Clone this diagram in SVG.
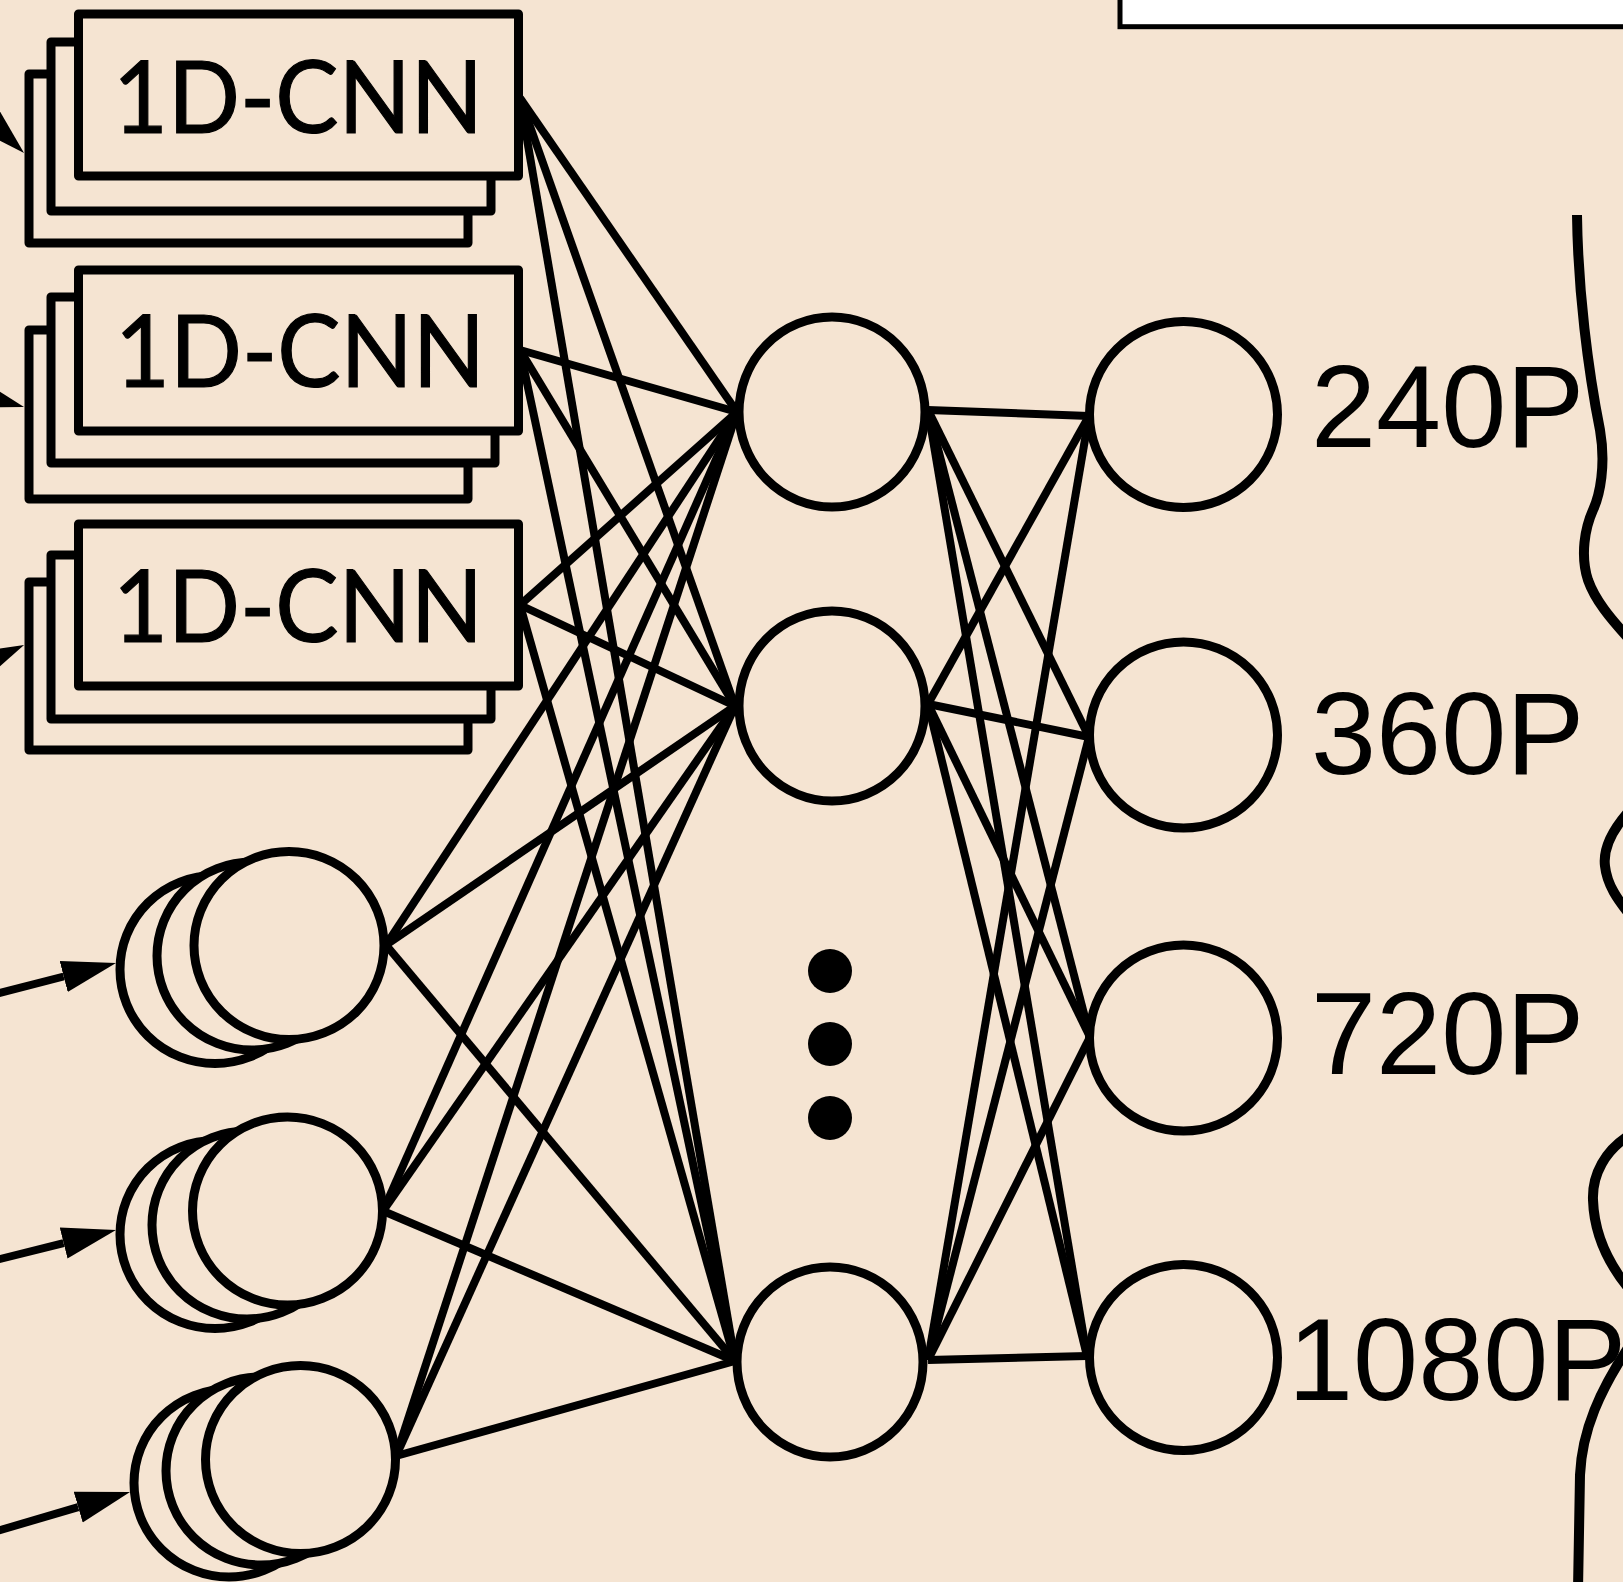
<svg xmlns="http://www.w3.org/2000/svg" width="1623" height="1582" viewBox="0 0 1623 1582">
<style>
.bg{fill:#F5E4D2}
.shape{fill:#F5E4D2;stroke:#000;stroke-width:9;stroke-linejoin:round}
.conn{stroke:#000;stroke-width:8;fill:none;stroke-linecap:butt}
.cnn{font-family:Lato,"Open Sans","Liberation Sans",sans-serif;font-size:101px;fill:#000;stroke:#000;stroke-width:1.2}
.lbl{font-family:"Liberation Sans",Arial,sans-serif;font-size:117px;fill:#000}
.dot{fill:#000}
</style>
<defs>
<marker id="ah" markerUnits="userSpaceOnUse" markerWidth="60" markerHeight="40" refX="0" refY="16" orient="auto" viewBox="0 0 60 32">
<path d="M0,0 L54,16 L0,32 z" fill="#000"/>
</marker>
</defs>
<rect class="bg" x="0" y="0" width="1623" height="1582"/>
<rect x="1120" y="-20" width="600" height="46.7" fill="#fff" stroke="#000" stroke-width="5"/>

<g id="connectors">
<g id="inputs">
<path class="conn" d="M-88,47 L-15.2,115.8" marker-end="url(#ah)"/>
<path class="conn" d="M-124,364.5 L-27.9,392.1" marker-end="url(#ah)"/>
<path class="conn" d="M-115.5,710 L-24.9,667.8" marker-end="url(#ah)"/>
<path class="conn" d="M-10,995.5 L63.7,976.5" marker-end="url(#ah)"/>
<path class="conn" d="M-10,1261.5 L63.6,1243.1" marker-end="url(#ah)"/>
<path class="conn" d="M-10,1533 L78.2,1507.2" marker-end="url(#ah)"/>
</g>
<g id="in-hidden">
<line class="conn" x1="520" y1="98" x2="737" y2="412"/>
<line class="conn" x1="520" y1="98" x2="735" y2="706"/>
<line class="conn" x1="520" y1="98" x2="735" y2="1361"/>
<line class="conn" x1="520" y1="350" x2="737" y2="412"/>
<line class="conn" x1="520" y1="350" x2="735" y2="706"/>
<line class="conn" x1="520" y1="350" x2="735" y2="1361"/>
<line class="conn" x1="520" y1="605" x2="737" y2="412"/>
<line class="conn" x1="520" y1="605" x2="735" y2="706"/>
<line class="conn" x1="520" y1="605" x2="735" y2="1361"/>
<line class="conn" x1="386" y1="945" x2="737" y2="412"/>
<line class="conn" x1="386" y1="945" x2="735" y2="706"/>
<line class="conn" x1="386" y1="945" x2="735" y2="1361"/>
<line class="conn" x1="383" y1="1211" x2="737" y2="412"/>
<line class="conn" x1="383" y1="1211" x2="735" y2="706"/>
<line class="conn" x1="383" y1="1211" x2="735" y2="1361"/>
<line class="conn" x1="396" y1="1456" x2="737" y2="412"/>
<line class="conn" x1="396" y1="1456" x2="735" y2="706"/>
<line class="conn" x1="396" y1="1456" x2="735" y2="1361"/>
</g>
<g id="hidden-out">
<line class="conn" x1="928" y1="410" x2="1089" y2="416"/>
<line class="conn" x1="928" y1="410" x2="1089" y2="737"/>
<line class="conn" x1="928" y1="410" x2="1090" y2="1037"/>
<line class="conn" x1="928" y1="410" x2="1087" y2="1356"/>
<line class="conn" x1="928" y1="704" x2="1089" y2="416"/>
<line class="conn" x1="928" y1="704" x2="1089" y2="737"/>
<line class="conn" x1="928" y1="704" x2="1090" y2="1037"/>
<line class="conn" x1="928" y1="704" x2="1087" y2="1356"/>
<line class="conn" x1="928" y1="1360" x2="1089" y2="416"/>
<line class="conn" x1="928" y1="1360" x2="1089" y2="737"/>
<line class="conn" x1="928" y1="1360" x2="1090" y2="1037"/>
<line class="conn" x1="928" y1="1360" x2="1087" y2="1356"/>
</g>
</g>

<g id="cnn1">
<rect class="shape" x="29" y="74" width="439" height="169"/>
<rect class="shape" x="51" y="42" width="440" height="169"/>
<rect class="shape" x="78.5" y="14" width="440" height="162"/>
<text class="cnn" x="113" y="133" textLength="370" lengthAdjust="spacingAndGlyphs">1D-CNN</text>
</g>
<g id="cnn2">
<rect class="shape" x="29" y="330" width="439" height="169"/>
<rect class="shape" x="51" y="297" width="444" height="166"/>
<rect class="shape" x="78.5" y="270" width="440" height="161"/>
<text class="cnn" x="115" y="387" textLength="370" lengthAdjust="spacingAndGlyphs">1D-CNN</text>
</g>
<g id="cnn3">
<rect class="shape" x="29" y="582" width="439" height="168"/>
<rect class="shape" x="51" y="555" width="440" height="164"/>
<rect class="shape" x="78.5" y="524" width="440" height="162"/>
<text class="cnn" x="113" y="642" textLength="370" lengthAdjust="spacingAndGlyphs">1D-CNN</text>
</g>

<g id="input1">
<ellipse class="shape" cx="215" cy="969.5" rx="95" ry="94"/>
<ellipse class="shape" cx="252" cy="956" rx="95" ry="94"/>
<ellipse class="shape" cx="289" cy="945.5" rx="95" ry="94"/>
</g>
<g id="input2">
<ellipse class="shape" cx="215" cy="1234.5" rx="95" ry="94"/>
<ellipse class="shape" cx="247" cy="1225" rx="95" ry="94"/>
<ellipse class="shape" cx="287.5" cy="1211" rx="95" ry="94"/>
</g>
<g id="input3">
<ellipse class="shape" cx="229" cy="1483" rx="95" ry="94"/>
<ellipse class="shape" cx="261" cy="1471" rx="95" ry="94"/>
<ellipse class="shape" cx="300.5" cy="1459.5" rx="95" ry="94"/>
</g>

<g id="hidden1"><ellipse class="shape" cx="832" cy="412" rx="93" ry="95"/></g>
<g id="hidden2"><ellipse class="shape" cx="832" cy="706" rx="93" ry="95"/></g>
<g id="hidden-dots">
<circle class="dot" cx="830" cy="971" r="22"/>
<circle class="dot" cx="830" cy="1044" r="22"/>
<circle class="dot" cx="830" cy="1118" r="22"/>
</g>
<g id="hidden3"><ellipse class="shape" cx="830" cy="1362" rx="93" ry="95"/></g>

<g id="out240"><ellipse class="shape" cx="1183.5" cy="414.5" rx="94" ry="93"/>
<text class="lbl" x="1311" y="447">240P</text></g>
<g id="out360"><ellipse class="shape" cx="1183.5" cy="735" rx="94" ry="93"/>
<text class="lbl" x="1311" y="774">360P</text></g>
<g id="out720"><ellipse class="shape" cx="1183.5" cy="1038" rx="94" ry="93"/>
<text class="lbl" x="1311" y="1074">720P</text></g>
<g id="out1080"><ellipse class="shape" cx="1183.5" cy="1357.5" rx="94" ry="93"/>
<text class="lbl" x="1288" y="1400">1080P</text></g>

<path id="brace" d="M1577,215 C1578,290 1588,370 1600,430 C1606,465 1600,495 1593,510 C1585,528 1580,555 1588,580 C1595,600 1610,618 1630,640 M1630,810 C1612,830 1603,850 1605,866 C1607,885 1618,900 1630,915 M1630,1135 C1605,1150 1592,1175 1593,1200 C1594,1230 1605,1260 1630,1290 M1630,1345 C1600,1390 1582,1430 1580,1475 L1578,1590" fill="none" stroke="#000" stroke-width="10"/>
</svg>
